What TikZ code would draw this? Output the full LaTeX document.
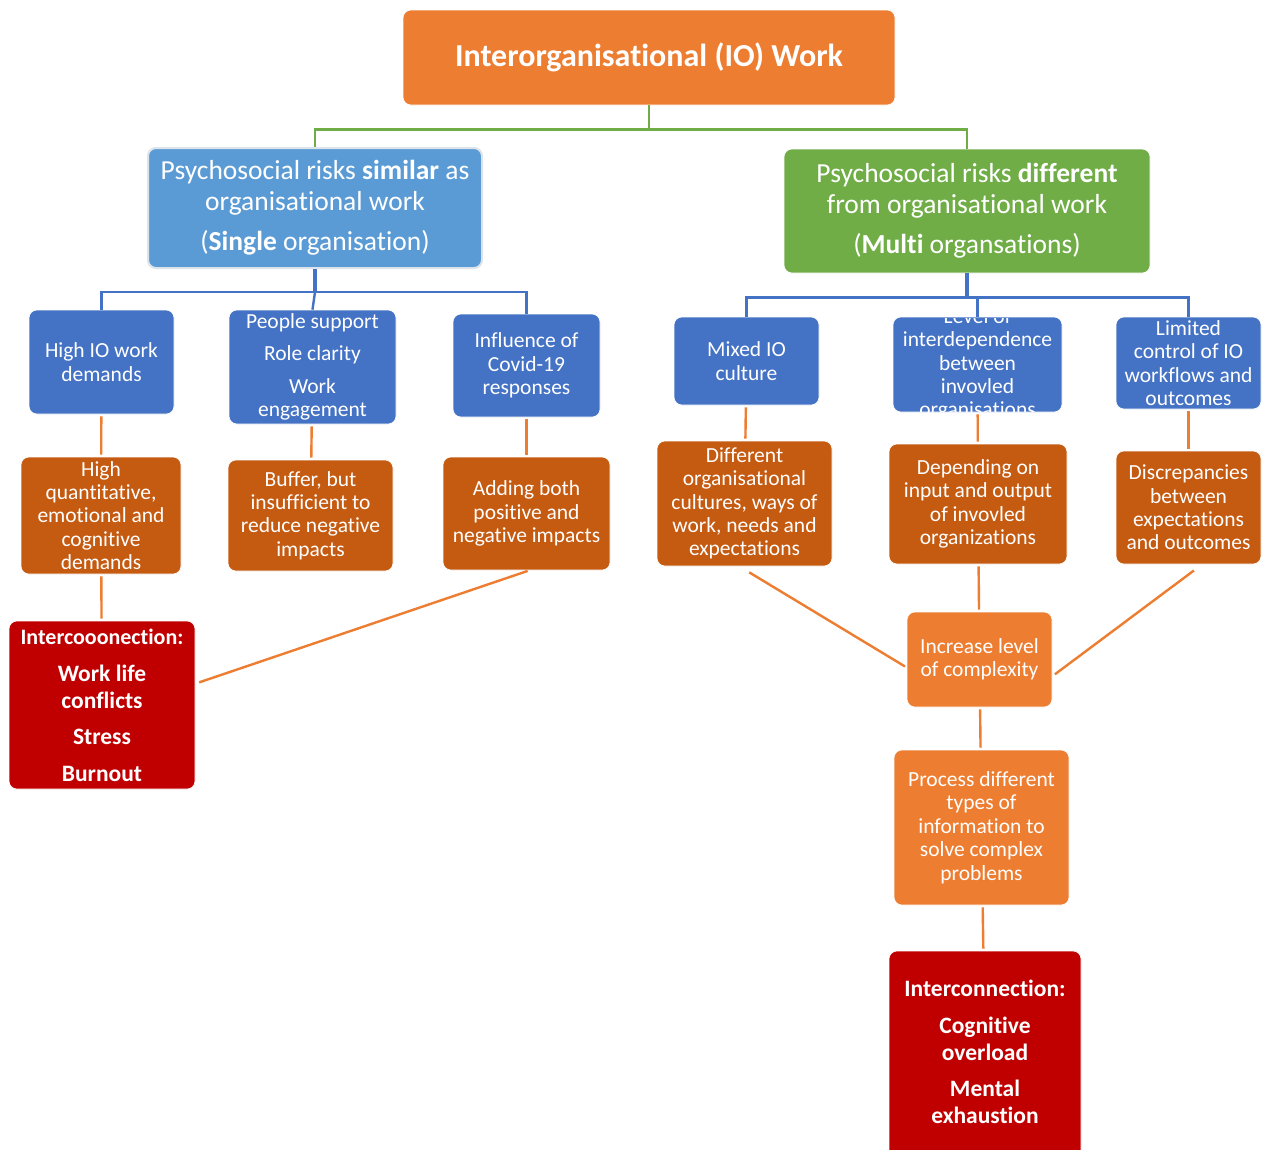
\documentclass[tikz,border=0pt]{standalone}
\usepackage{fontspec}
\setmainfont{Carlito}[Ligatures=NoCommon]
\usetikzlibrary{calc}
\definecolor{cOrange}{HTML}{ED7D31}
\definecolor{cLBlue}{HTML}{5B9BD5}
\definecolor{cGreen}{HTML}{70AD47}
\definecolor{cBlue}{HTML}{4472C4}
\definecolor{cBrown}{HTML}{C55A11}
\definecolor{cRed}{HTML}{C00000}
\definecolor{cEdge}{HTML}{DCE3EA}
\tikzset{
  box/.style={rounded corners=8pt, inner sep=0pt, align=center, text=white,
    font=\fontsize{21.5}{23.4}\selectfont, draw=white, line width=0.6pt},
  bluebox/.style={box, fill=cBlue},
  brownbox/.style={box, fill=cBrown},
  orangebox/.style={box, fill=cOrange},
  redbox/.style={box, fill=cRed, font=\fontsize{23.5}{27}\selectfont\bfseries},
  greenline/.style={draw=cGreen, line width=2.4pt},
  blueline/.style={draw=cBlue, line width=2.4pt},
  orangeline/.style={draw=cOrange, line width=2.4pt, shorten <=2pt, shorten >=2pt},
}
\begin{document}
\begin{tikzpicture}[x=1pt,y=-1pt]
\clip (0,0) rectangle (1264,1149);
\fill[white] (0,0) rectangle (1264,1149);

% top
\node[box, fill=cOrange, minimum width=492pt, minimum height=95pt,
  font=\fontsize{32}{38}\selectfont\bfseries] (title) at (649,57.5) {Interorganisational (IO) Work};

% level 2
\node[box, fill=cLBlue, draw=cEdge, line width=2pt, minimum width=334pt, minimum height=120pt,
  font=\fontsize{27.5}{30.5}\selectfont] (l2l) at (315,208)
  {Psychosocial risks \textbf{similar} as\\organisational work\\[10pt](\textbf{Single} organisation)};
\node[box, fill=cGreen, minimum width=366pt, minimum height=124pt,
  font=\fontsize{27.5}{30.5}\selectfont] (l2r) at (967,211)
  {Psychosocial risks \textbf{different}\\from organisational work\\[10pt](\textbf{Multi} organsations)};

% level 3 (blue)
\node[bluebox, minimum width=145pt, minimum height=104pt] (hio) at (101.5,362) {High IO work\\demands};
\node[bluebox, minimum width=167pt, minimum height=114pt] (ppl) at (312.5,367)
  {People support\\[9pt]Role clarity\\[9.5pt]Work\\engagement};
\node[bluebox, minimum width=147pt, minimum height=103pt] (cov) at (526.5,365.5) {Influence of\\Covid-19\\responses};
\node[bluebox, minimum width=145pt, minimum height=88pt] (mix) at (746.5,361) {Mixed IO\\culture};
\node[bluebox, minimum width=169pt, minimum height=95pt] (lvl) at (977.5,364.5) {};
\begin{scope}
  \clip[rounded corners=8pt] ($(lvl.south west)+(1,-1)$) rectangle ($(lvl.north east)+(-1,1)$);
  \node[box, draw=none, text=white] (lvltext) at (977.5,364.5)
    {Level of\\interdependence\\between\\invovled\\organisations};
\end{scope}
\node[bluebox, minimum width=145pt, minimum height=92pt] (lim) at (1188.5,363)
  {Limited\\control of IO\\workflows and\\outcomes};

% level 4 (brown)
\node[brownbox, minimum width=160pt, minimum height=117pt] (hq) at (101,515.5)
  {High\\quantitative,\\emotional and\\cognitive\\demands};
\node[brownbox, minimum width=165pt, minimum height=111pt] (buf) at (310.5,515.5)
  {Buffer, but\\insufficient to\\reduce negative\\impacts};
\node[brownbox, minimum width=167pt, minimum height=113pt] (add) at (526.5,513.5)
  {Adding both\\positive and\\negative impacts};
\node[brownbox, minimum width=175pt, minimum height=125pt] (dif) at (744.5,503.5)
  {Different\\organisational\\cultures, ways of\\work, needs and\\expectations};
\node[brownbox, minimum width=178pt, minimum height=120pt] (dep) at (978,504)
  {Depending on\\input and output\\of invovled\\organizations};
\node[brownbox, minimum width=145pt, minimum height=113pt] (dis) at (1188.5,507.5)
  {Discrepancies\\between\\expectations\\and outcomes};

% right chain
\node[orangebox, minimum width=145pt, minimum height=95pt] (inc) at (979.5,659.5)
  {Increase level\\of complexity};
\node[orangebox, minimum width=175pt, minimum height=155pt] (pro) at (981.5,827.5)
  {Process different\\types of\\information to\\solve complex\\problems};

% red outcome boxes
\node[redbox, minimum width=186pt, minimum height=168pt] (redl) at (102,705)
  {{\fontsize{22}{27}\selectfont Intercooonection:}\\[10pt]Work life\\conflicts\\[9pt]Stress\\[10pt]Burnout};
\node[redbox, minimum width=192pt, minimum height=220pt] (redr) at (985,1061) {};
\node[redbox, draw=none, fill=none] (redrtext) at (985,1051.5)
  {Interconnection:\\[10pt]Cognitive\\overload\\[9pt]Mental\\exhaustion};

% green connectors
\draw[greenline] (title.south) -- ++(0,24) coordinate (gmid) -| (l2l.north);
\draw[greenline] (gmid) -| (l2r.north);

% blue connectors
\draw[blueline, line width=4pt] (l2l.south) -- ++(0,23) coordinate (blj);
\draw[blueline] (blj) -| (hio.north);
\draw[blueline] (blj) -| (cov.north);
\draw[blueline] (blj) -- (ppl.north);
\draw[blueline, line width=4pt] (l2r.south) -- ++(0,24) coordinate (brj);
\draw[blueline] (brj) -| (mix.north);
\draw[blueline] (brj) -| (lim.north);
\draw[blueline] (brj) -| (lvl.north);

% orange connectors
\draw[orangeline] (hio) -- (hq);
\draw[orangeline] (ppl) -- (buf);
\draw[orangeline] (cov) -- (add);
\draw[orangeline] (mix) -- (dif);
\draw[orangeline] (lvl) -- (dep);
\draw[orangeline] (lim) -- (dis);
\draw[orangeline] (hq) -- (redl);
\draw[orangeline] ($(add.south)+(3,0)$) -- ($(redl.east)+(2,-22)$);
\draw[orangeline] ($(dif.south)+(3,5)$) -- ($(inc.west)+(0,8)$);
\draw[orangeline] ($(dis.south)+(7,5)$) -- ($(inc.east)+(1,16)$);
\draw[orangeline] (dep) -- (inc);
\draw[orangeline] (inc) -- (pro);
\draw[orangeline] (pro) -- (redr);
\end{tikzpicture}
\end{document}
